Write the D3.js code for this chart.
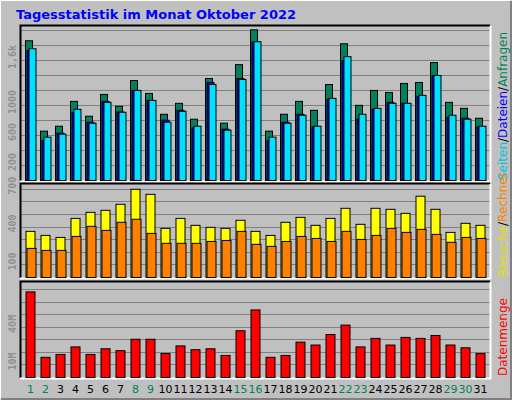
<!DOCTYPE html><html><head><meta charset="utf-8"><script src="https://d3js.org/d3.v7.min.js"></script>
<style>body{margin:0;background:#fff}</style></head><body><script>
const days=d3.range(1,32);
const weekend=[1,2,8,9,15,16,22,23,29,30];
const anfragen=[1863,658,724,1055,857,1148,989,1333,1161,883,1029,817,1360,764,1545,2009,658,883,1055,936,1280,1823,1002,1201,1174,1294,1307,1572,1042,962,830];
const dateien=[1731,530,631,901,777,1055,914,1201,1068,804,936,702,1307,684,1360,1845,530,777,883,715,1082,1598,817,949,1042,1029,1121,1400,843,830,711];
const seiten=[1757,578,618,949,764,1042,909,1201,1068,777,923,724,1280,671,1347,1850,578,764,870,724,1095,1651,883,962,1029,1029,1135,1400,870,817,724];
const besuche=[366,334,318,469,517,533,581,700,660,390,469,414,398,390,454,366,334,438,477,414,469,549,422,549,541,509,645,541,358,430,414];
const rechner=[231,215,215,326,406,374,438,462,350,271,271,271,286,294,366,263,247,286,326,310,286,366,302,334,390,358,382,342,279,318,310];
const datenmenge=[68.3,16.1,18.4,24.4,18.4,22.9,21.4,30.5,30.5,19.1,25.2,22.2,22.9,17.6,37.3,53.9,16.1,17.6,28.2,25.9,34.3,41.8,24.4,31.2,25.9,32.0,31.2,33.5,25.9,23.7,19.1];
const ticks1=[[200,"200"],[600,"600"],[1000,"1000"],[1600,"1,6k"]];
const ticks2=[[100,"100"],[400,"400"],[700,"700"]];
const ticks3=[[10,"10M"],[40,"40M"]];

const svg=d3.select("body").append("svg").attr("width",512).attr("height",400);
svg.append("rect").attr("width",512).attr("height",400).attr("fill","#c0c0c0");
svg.append("path").attr("d","M511.5,0.5V399.5H0.5").attr("stroke","#808080").attr("stroke-width",3).attr("fill","none");
svg.append("path").attr("d","M0.5,399.5V0.5H511.5").attr("stroke","#fff").attr("stroke-width",1).attr("fill","none");
svg.append("text").attr("x",16).attr("y",19).text("Tagesstatistik im Monat Oktober 2022")
 .attr("font-family","DejaVu Sans").attr("font-weight","bold").attr("font-size",13).attr("fill","#0000ff");

const x=d3.scaleBand().domain(days).range([20,485]).padding(0);
const L=20,R=490;
function panel(top,bottom,max,grid,ticks){
  const y=d3.scaleLinear().domain([0,max]).range([bottom,top]);
  svg.append("rect").attr("x",L).attr("y",top-1).attr("width",R-L).attr("height",bottom-top+2).attr("fill","#c0c0c0");
  const g=svg.append("g");
  d3.range(grid,max,grid).forEach(v=>g.append("line").attr("x1",L).attr("x2",R).attr("y1",Math.round(y(v))+0.5).attr("y2",Math.round(y(v))+0.5).attr("stroke","#808080"));
  svg.append("path").attr("d",`M${L+0.5},${bottom+1}V${top-1.5}H${R}`).attr("stroke","#000").attr("stroke-width",2).attr("fill","none");
  svg.append("path").attr("d",`M${L},${bottom+1.5}H${R+0.5}V${top-1}`).attr("stroke","#fff").attr("stroke-width",2).attr("fill","none");
  ticks.forEach(([v,t])=>svg.append("text").attr("transform",`translate(16,${y(v)-3}) rotate(-90)`).attr("text-anchor","middle")
    .attr("font-family","DejaVu Sans Mono").attr("font-weight","bold").attr("font-size",10).attr("fill","#909090").text(t));
  return y;
}
function bars(y,data,off,w,color){
  svg.append("g").selectAll("rect").data(data).join("rect")
   .attr("x",(d,i)=>x(days[i])+off+0.5).attr("y",d=>y(d)+0.5).attr("width",w).attr("height",d=>y(0)-y(d))
   .attr("fill",color).attr("stroke","#000").attr("stroke-width",1);
}
const y1=panel(27,180,2040,200,ticks1);
bars(y1,anfragen,5,7,"#00805c");
bars(y1,dateien,6.5,7,"#0000ff");
bars(y1,seiten,8.5,7,"#00e0ff");
const y2=panel(185,277,730,100,ticks2);
bars(y2,besuche,5.5,9,"#ffff00");
bars(y2,rechner,6.5,9,"#ff8000");
const y3=panel(283,377,75,10,ticks3);
bars(y3,datenmenge,5.5,9,"#ff0000");

svg.append("g").selectAll("text").data(days).join("text")
 .attr("x",d=>x(d)+10.5).attr("y",393).attr("text-anchor","middle").attr("font-family","DejaVu Sans").attr("font-size",11)
 .attr("fill",d=>weekend.includes(d)?"#00805c":"#000").text(d=>d);

function vlabel(yb,parts){
  const t=svg.append("text").attr("transform",`translate(507,${yb}) rotate(-90)`).attr("font-family","DejaVu Sans").attr("font-size",12);
  parts.forEach(([s,c])=>t.append("tspan").attr("fill",c).text(s));
}
vlabel(180,[["Seiten","#00c0e0"],["/","#000"],["Dateien","#0000ff"],["/","#000"],["Anfragen","#00805c"]]);
vlabel(277,[["Besuche","#e0e000"],["/","#000"],["Rechner","#ff8000"]]);
vlabel(376,[["Datenmenge","#ff0000"]]);
</script></body></html>
